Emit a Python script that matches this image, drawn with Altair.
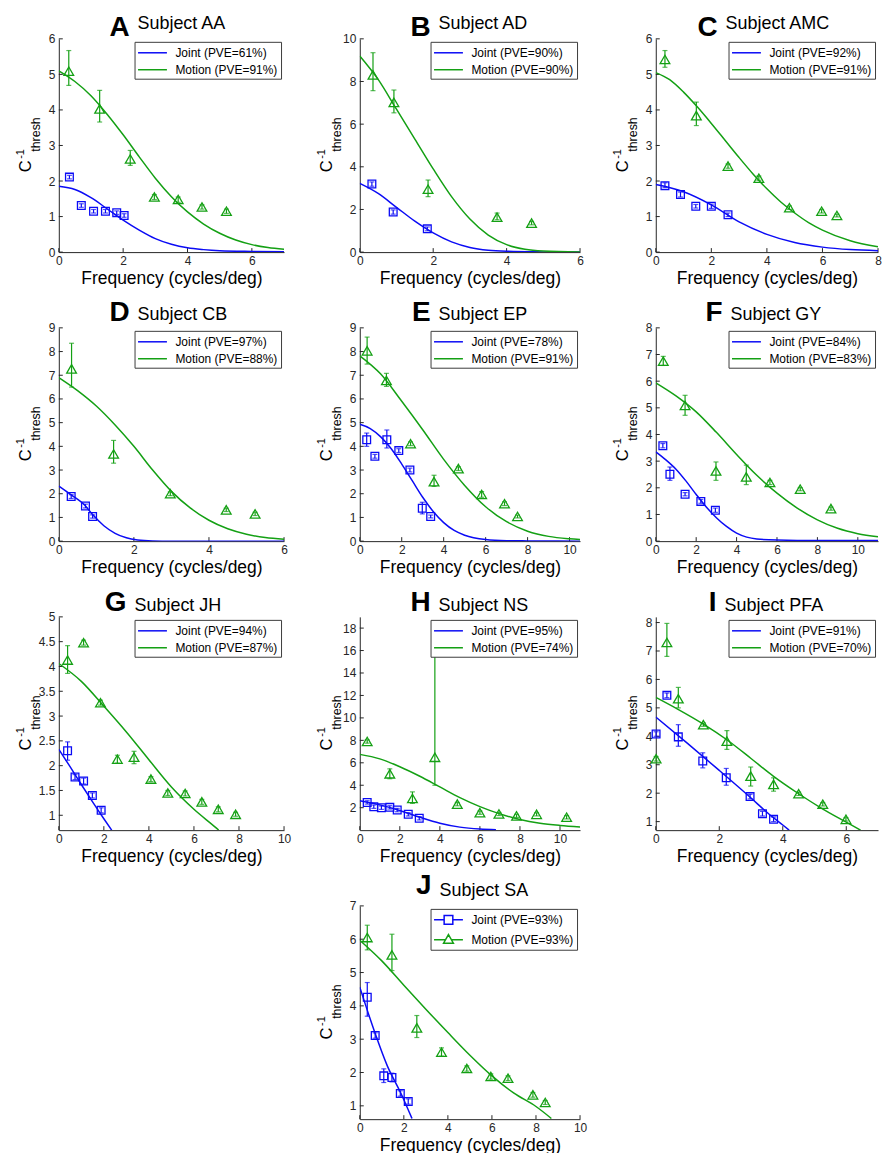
import altair as alt
import pandas as pd

BLUE = "#0b0bf5"
GREEN = "#14a014"
AXC = "#262626"
FONT = "Liberation Sans"

# ---------------- values ----------------
# points: (frequency, C^-1 thresh, error low, error high); fits: (frequency, value)
AA_joint = [(0.33, 2.11, 2.06, 2.16), (0.70, 1.31, 1.26, 1.36), (1.08, 1.15, 1.10, 1.20),
            (1.45, 1.15, 1.10, 1.20), (1.80, 1.11, 1.06, 1.16), (2.03, 1.03, 0.98, 1.08)]
AA_motion = [(0.31, 5.09, 4.69, 5.67), (1.27, 4.03, 3.66, 4.55), (2.22, 2.62, 2.44, 2.86),
             (2.97, 1.55, 1.48, 1.62), (3.71, 1.48, 1.40, 1.55), (4.45, 1.27, 1.21, 1.33),
             (5.21, 1.15, 1.09, 1.21)]
AA_joint_fit = [(0, 1.85), (0.5, 1.76), (1, 1.53), (1.5, 1.22), (2, 0.9), (2.5, 0.62), (3, 0.38),
                (3.5, 0.22), (4, 0.12), (4.5, 0.07), (5, 0.04), (6, 0.02), (7, 0.01)]
AA_motion_fit = [(0, 5.1), (0.5, 4.8), (1, 4.4), (1.5, 3.88), (2, 3.3), (2.5, 2.68), (3, 2.08),
                 (3.5, 1.56), (4, 1.13), (4.5, 0.79), (5, 0.53), (5.5, 0.34), (6, 0.21),
                 (6.5, 0.13), (7, 0.08)]

AD_joint = [(0.33, 3.19, 3.09, 3.29), (0.91, 1.88, 1.78, 1.98), (1.84, 1.09, 1.0, 1.18)]
AD_motion = [(0.36, 8.31, 7.57, 9.35), (0.93, 7.02, 6.53, 7.6), (1.86, 2.95, 2.6, 3.38),
             (3.74, 1.64, 1.52, 1.83), (4.68, 1.36, 1.28, 1.44)]
AD_joint_fit = [(0, 3.22), (0.5, 2.75), (1, 2.1), (1.5, 1.45), (2, 0.9), (2.5, 0.48), (3, 0.22),
                (3.5, 0.09), (4, 0.04), (5, 0.01), (6, 0.0)]
AD_motion_fit = [(0, 9.2), (0.5, 8.1), (1, 6.7), (1.5, 5.3), (2, 3.9), (2.5, 2.6), (3, 1.55),
                 (3.5, 0.8), (4, 0.35), (4.5, 0.13), (5, 0.05), (6, 0.01)]

AMC_joint = [(0.33, 1.87, 1.82, 1.95), (0.89, 1.62, 1.55, 1.69), (1.44, 1.29, 1.24, 1.34),
             (2.0, 1.29, 1.23, 1.35), (2.6, 1.05, 1.0, 1.1)]
AMC_motion = [(0.33, 5.42, 5.2, 5.67), (1.46, 3.84, 3.56, 4.22), (2.6, 2.42, 2.36, 2.48),
              (3.71, 2.08, 2.02, 2.14), (4.81, 1.25, 1.2, 1.3), (5.97, 1.15, 1.1, 1.2),
              (6.52, 1.03, 0.99, 1.07)]
AMC_joint_fit = [(0, 1.9), (1, 1.7), (2, 1.33), (3, 0.85), (4, 0.5), (5, 0.27), (6, 0.14),
                 (7, 0.07), (8, 0.04)]
AMC_motion_fit = [(0, 5.05), (0.5, 4.85), (1, 4.5), (1.5, 4.08), (2, 3.62), (2.5, 3.14),
                  (3, 2.66), (3.5, 2.2), (4, 1.78), (4.5, 1.41), (5, 1.1), (5.5, 0.83),
                  (6, 0.62), (7, 0.32), (8, 0.15)]

CB_joint = [(0.33, 1.88, 1.8, 1.96), (0.71, 1.48, 1.4, 1.56), (0.9, 1.04, 0.97, 1.11)]
CB_motion = [(0.34, 7.27, 6.5, 8.35), (1.46, 3.68, 3.29, 4.25), (2.97, 2.0, 1.92, 2.08),
             (4.46, 1.32, 1.25, 1.39), (5.23, 1.15, 1.08, 1.22)]
CB_joint_fit = [(0, 2.32), (0.33, 1.95), (0.7, 1.5), (0.9, 1.12), (1.2, 0.65), (1.5, 0.33),
                (1.8, 0.14), (2.1, 0.05), (2.5, 0.01), (3, 0.0), (6, 0.0)]
CB_motion_fit = [(0, 6.9), (0.5, 6.35), (1, 5.7), (1.5, 4.9), (2, 4.0), (2.5, 3.0), (3, 2.1),
                 (3.5, 1.4), (4, 0.88), (4.5, 0.52), (5, 0.29), (5.5, 0.15), (6, 0.08)]

EP_joint = [(0.33, 4.28, 4.0, 4.56), (0.72, 3.58, 3.5, 3.66), (1.29, 4.28, 3.93, 4.69),
            (1.86, 3.82, 3.74, 3.9), (2.39, 3.0, 2.92, 3.08), (2.98, 1.39, 1.15, 1.64),
            (3.38, 1.04, 0.98, 1.1)]
EP_motion = [(0.35, 8.03, 7.47, 8.61), (1.27, 6.78, 6.53, 7.08), (2.42, 4.11, 4.03, 4.19),
             (3.54, 2.51, 2.31, 2.78), (4.7, 3.06, 2.98, 3.14), (5.81, 1.97, 1.85, 2.09),
             (6.9, 1.58, 1.5, 1.66), (7.52, 1.04, 0.98, 1.1)]
EP_joint_fit = [(0, 4.93), (0.5, 4.75), (1, 4.4), (1.5, 3.9), (2, 3.25), (2.5, 2.55), (3, 1.85),
                (3.5, 1.25), (4, 0.78), (4.5, 0.45), (5, 0.25), (6, 0.07), (7, 0.02), (8, 0.01),
                (10.5, 0.0)]
EP_motion_fit = [(0, 7.82), (1, 7.05), (2, 5.9), (3, 4.7), (4, 3.45), (5, 2.35), (6, 1.45),
                 (7, 0.82), (8, 0.42), (9, 0.2), (10, 0.1), (10.5, 0.07)]

GY_joint = [(0.35, 3.58, 3.5, 3.66), (0.7, 2.51, 2.28, 2.78), (1.45, 1.76, 1.7, 1.82),
            (2.23, 1.49, 1.42, 1.56), (2.95, 1.16, 1.08, 1.24)]
GY_motion = [(0.37, 6.75, 6.59, 6.93), (1.45, 5.09, 4.72, 5.47), (2.98, 2.63, 2.28, 2.97),
             (4.48, 2.41, 2.12, 2.85), (5.65, 2.2, 2.12, 2.28), (7.15, 1.95, 1.89, 2.01),
             (8.67, 1.22, 1.16, 1.28)]
GY_joint_fit = [(0, 3.35), (0.5, 3.05), (1, 2.7), (1.5, 2.25), (2, 1.75), (2.5, 1.28), (3, 0.88),
                (3.5, 0.55), (4, 0.3), (4.5, 0.15), (5, 0.08), (6, 0.04), (8, 0.02), (11, 0.02)]
GY_motion_fit = [(0, 5.94), (1, 5.45), (2, 4.85), (3, 4.08), (4, 3.25), (5, 2.47), (6, 1.8),
                 (7, 1.24), (8, 0.8), (9, 0.48), (10, 0.28), (11, 0.16)]

JH_joint = [(0.39, 2.3, 2.11, 2.48), (0.72, 1.77, 1.72, 1.82), (1.1, 1.69, 1.63, 1.75),
            (1.49, 1.4, 1.35, 1.45), (1.88, 1.1, 1.05, 1.15)]
JH_motion = [(0.39, 4.13, 3.86, 4.42), (1.1, 4.48, 4.43, 4.53), (1.85, 3.27, 3.22, 3.32),
             (2.6, 2.13, 2.05, 2.21), (3.34, 2.17, 2.04, 2.29), (4.09, 1.73, 1.68, 1.78),
             (4.84, 1.45, 1.4, 1.5), (5.61, 1.44, 1.39, 1.49), (6.35, 1.27, 1.22, 1.32),
             (7.08, 1.12, 1.07, 1.17), (7.85, 1.02, 0.98, 1.06)]
JH_joint_fit = [(0, 2.33), (0.5, 1.98), (1, 1.62), (1.5, 1.27), (2, 0.93), (2.35, 0.7)]
JH_motion_fit = [(0, 4.06), (1, 3.7), (2, 3.2), (3, 2.68), (4, 2.12), (5, 1.57), (6, 1.12),
                 (7, 0.74), (7.1, 0.7)]

NS_joint = [(0.37, 2.47, 2.32, 2.62), (0.7, 2.09, 1.94, 2.24), (1.08, 2.0, 1.85, 2.15),
            (1.5, 2.03, 1.88, 2.18), (1.87, 1.79, 1.64, 1.94), (2.42, 1.41, 1.26, 1.56),
            (2.97, 1.06, 0.91, 1.21)]
NS_motion = [(0.37, 7.9, 7.75, 8.05), (1.5, 5.02, 4.58, 5.46), (2.63, 2.82, 2.38, 3.41),
             (3.75, 6.49, 4.0, 18.0), (4.87, 2.32, 2.17, 2.47), (6.0, 1.56, 1.41, 1.71),
             (6.95, 1.44, 1.3, 1.58), (7.83, 1.27, 1.13, 1.41), (8.83, 1.41, 1.27, 1.55),
             (10.33, 1.15, 1.0, 1.3)]
NS_joint_fit = [(0, 2.62), (1, 2.25), (2, 1.75), (3, 1.15), (4, 0.62), (5, 0.27), (6, 0.1),
                (6.8, 0.04)]
NS_motion_fit = [(0, 6.75), (1, 6.35), (2, 5.65), (3, 4.8), (4, 3.85), (5, 2.9), (6, 2.1),
                 (7, 1.45), (8, 0.95), (9, 0.62), (10, 0.42), (11, 0.28)]

PFA_joint = [(0.01, 4.08, 4.0, 4.16), (0.35, 5.44, 5.36, 5.52), (0.71, 3.98, 3.65, 4.41),
             (1.48, 3.13, 2.89, 3.42), (2.22, 2.54, 2.28, 2.87), (2.97, 1.88, 1.8, 1.96),
             (3.36, 1.28, 1.2, 1.36), (3.71, 1.08, 1.0, 1.16)]
PFA_motion = [(0.01, 3.21, 3.13, 3.29), (0.35, 7.3, 6.81, 7.97), (0.71, 5.32, 5.0, 5.72),
              (1.5, 4.41, 4.35, 4.47), (2.24, 3.83, 3.54, 4.2), (2.99, 2.6, 2.25, 2.92),
              (3.71, 2.31, 2.07, 2.54), (4.5, 1.98, 1.92, 2.04), (5.26, 1.61, 1.55, 1.67),
              (5.99, 1.08, 1.02, 1.14)]
PFA_joint_fit = [(0, 4.68), (1, 3.75), (2, 2.8), (3, 1.83), (3.5, 1.33), (4, 0.88), (4.2, 0.7)]
PFA_motion_fit = [(0, 5.37), (0.7, 4.95), (1.5, 4.43), (2.25, 3.87), (3, 3.22), (3.7, 2.6),
                  (4.5, 1.98), (5.25, 1.45), (6, 0.98), (6.45, 0.7)]

SA_joint = [(0.34, 4.26, 3.69, 4.7), (0.7, 3.11, 3.03, 3.19), (1.09, 1.9, 1.7, 2.11),
            (1.46, 1.85, 1.72, 1.98), (1.84, 1.37, 1.29, 1.45), (2.2, 1.13, 1.05, 1.21)]
SA_motion = [(0.34, 6.05, 5.68, 6.42), (1.46, 5.53, 5.06, 6.15), (2.59, 3.34, 3.05, 3.71),
             (3.71, 2.61, 2.49, 2.74), (4.86, 2.12, 2.04, 2.2), (5.95, 1.88, 1.8, 1.96),
             (6.73, 1.83, 1.76, 1.9), (7.86, 1.33, 1.26, 1.4), (8.42, 1.1, 1.04, 1.16)]
SA_joint_fit = [(0, 4.56), (0.35, 3.85), (0.7, 3.17), (1.25, 2.2), (1.85, 1.4), (2.37, 0.62)]
SA_motion_fit = [(0, 5.97), (1, 5.35), (2, 4.62), (3, 3.9), (4, 3.2), (5, 2.52), (6, 1.9),
                 (7, 1.38), (8, 0.98), (8.7, 0.62)]

letters = ["A", "B", "C", "D", "E", "F", "G", "H", "I", "J"]
subjects = ["AA", "AD", "AMC", "CB", "EP", "GY", "JH", "NS", "PFA", "SA"]
pve_joint = [61, 90, 92, 97, 78, 84, 94, 95, 91, 93]
pve_motion = [91, 90, 91, 88, 91, 83, 87, 74, 70, 93]
x_domains = [[0, 7], [0, 6], [0, 8], [0, 6], [0, 10.5], [0, 11], [0, 10], [0, 11], [0, 7], [0, 10]]
x_ticks = [[0, 2, 4, 6], [0, 2, 4, 6], [0, 2, 4, 6, 8], [0, 2, 4, 6], [0, 2, 4, 6, 8, 10],
           [0, 2, 4, 6, 8, 10], [0, 2, 4, 6, 8, 10], [0, 2, 4, 6, 8, 10], [0, 2, 4, 6],
           [0, 2, 4, 6, 8, 10]]
y_domains = [[0, 6], [0, 10], [0, 6], [0, 9], [0, 9], [0, 8], [0.7, 5], [0, 19], [0.7, 8.2], [0.6, 7]]
y_ticks = [[0, 1, 2, 3, 4, 5, 6], [0, 2, 4, 6, 8, 10], [0, 1, 2, 3, 4, 5, 6],
           [0, 1, 2, 3, 4, 5, 6, 7, 8, 9], [0, 1, 2, 3, 4, 5, 6, 7, 8, 9],
           [0, 1, 2, 3, 4, 5, 6, 7, 8], [1, 1.5, 2, 2.5, 3, 3.5, 4, 4.5, 5],
           [2, 4, 6, 8, 10, 12, 14, 16, 18], [1, 2, 3, 4, 5, 6, 7, 8], [1, 2, 3, 4, 5, 6, 7]]
series = [
    (AA_joint, AA_motion, AA_joint_fit, AA_motion_fit),
    (AD_joint, AD_motion, AD_joint_fit, AD_motion_fit),
    (AMC_joint, AMC_motion, AMC_joint_fit, AMC_motion_fit),
    (CB_joint, CB_motion, CB_joint_fit, CB_motion_fit),
    (EP_joint, EP_motion, EP_joint_fit, EP_motion_fit),
    (GY_joint, GY_motion, GY_joint_fit, GY_motion_fit),
    (JH_joint, JH_motion, JH_joint_fit, JH_motion_fit),
    (NS_joint, NS_motion, NS_joint_fit, NS_motion_fit),
    (PFA_joint, PFA_motion, PFA_joint_fit, PFA_motion_fit),
    (SA_joint, SA_motion, SA_joint_fit, SA_motion_fit),
]

# ---------------- layout (pixels) ----------------
COL_W = [226, 221, 223]
ROW_H = 214
SPACING = 76
SUB_X = [79, 79, 70, 79, 79, 75, 76, 79, 69, 80]
LETTER_BASE = [-3, -7, -6, -12]
SUB_BASE = [-10, -8, -6, -10]

LINE_PATH = "M-2,0H2"
SQ_PATH = "M-2,0H-0.6M0.6,0H2M-0.6,-0.6H0.6V0.6H-0.6Z"
TRI_PATH = "M-2,0H-0.4M0.4,0H2M0,-0.72L0.68,0.48H-0.68Z"


def text_layer(t, x, y, size, weight="normal", align="left", angle=0, baseline="alphabetic"):
    return alt.Chart(pd.DataFrame({"t": [t]})).mark_text(
        align=align, baseline=baseline, fontSize=size, fontWeight=weight, angle=angle,
        color="black", font=FONT
    ).encode(x=alt.value(x), y=alt.value(y), text="t:N")


def make_legend():
    return alt.Legend(title=None, orient="top-right", offset=3, padding=3, strokeColor="#3c3c3c",
                      fillColor="white", symbolType=LINE_PATH, symbolSize=210, symbolOffset=7,
                      symbolStrokeWidth=1.5, symbolFillColor="transparent", symbolOpacity=1,
                      labelFontSize=12, labelFont=FONT, labelColor="black", rowPadding=3,
                      labelOffset=15)


def make_panel(i, markers_in_legend):
    joint, motion, jfit, mfit = series[i]
    jl = "Joint (PVE=%d%%)" % pve_joint[i]
    ml = "Motion (PVE=%d%%)" % pve_motion[i]
    col = 1 if i == 9 else i % 3
    row = i // 3
    w, h = COL_W[col], ROW_H
    xs = alt.Scale(domain=x_domains[i], nice=False, zero=False)
    ys = alt.Scale(domain=y_domains[i], nice=False, zero=False)
    xax = alt.Axis(values=x_ticks[i], title="Frequency (cycles/deg)", ticks=False, grid=False,
                   labelFontSize=12, titleFontSize=17.5, titleFontWeight="normal", format=".2~f",
                   labelFlush=False, labelOverlap=False, labelPadding=3, titlePadding=3,
                   domainColor=AXC, labelColor=AXC, titleColor="black", labelFont=FONT,
                   titleFont=FONT)
    yax = alt.Axis(values=y_ticks[i], title=None, ticks=False, grid=False, labelFontSize=12,
                   format=".2~f", labelFlush=False, labelOverlap=False, labelPadding=4,
                   domainColor=AXC, labelColor=AXC, labelFont=FONT)

    def X(f):
        return alt.X(f, type="quantitative", scale=xs, axis=xax)

    def Y(f):
        return alt.Y(f, type="quantitative", scale=ys, axis=yax)

    jdf = pd.DataFrame(joint, columns=["x", "y", "lo", "hi"])
    mdf = pd.DataFrame(motion, columns=["x", "y", "lo", "hi"])
    fdf = pd.DataFrame([(x, y, jl) for x, y in jfit] + [(x, y, ml) for x, y in mfit],
                       columns=["x", "y", "s"])
    xt = pd.DataFrame({"v": x_ticks[i]})
    yt = pd.DataFrame({"v": y_ticks[i]})
    legend = make_legend()
    cscale = alt.Scale(domain=[jl, ml], range=[BLUE, GREEN])

    layers = []
    layers.append(alt.Chart(xt).mark_rule(color=AXC, strokeWidth=1).encode(
        x=X("v"), y=alt.value(h), y2=alt.value(h - 4)))
    layers.append(alt.Chart(yt).mark_rule(color=AXC, strokeWidth=1).encode(
        y=Y("v"), x=alt.value(0), x2=alt.value(4)))
    for df, colr, shape, size in ((jdf, BLUE, "square", 60), (mdf, GREEN, "triangle-up", 95)):
        layers.append(alt.Chart(df).mark_errorbar(ticks=True, size=5, thickness=1.2, color=colr).encode(
            x=X("x"), y=Y("lo"), y2="hi:Q"))
        layers.append(alt.Chart(df).mark_point(shape=shape, filled=False, size=size, strokeWidth=1.3,
                                               color=colr, opacity=1).encode(x=X("x"), y=Y("y")))
    layers.append(alt.Chart(fdf).mark_line(strokeWidth=1.5, clip=True, interpolate="monotone").encode(
        x=X("x"), y=Y("y"), color=alt.Color("s:N", scale=cscale, legend=legend)))
    if markers_in_legend and i == 9:
        # invisible points on the fit curves, only to give the legend its line+marker symbols
        layers.append(alt.Chart(fdf).mark_point(filled=False, opacity=0).encode(
            x=X("x"), y=Y("y"), color=alt.Color("s:N", scale=cscale, legend=legend),
            shape=alt.Shape("s:N", scale=alt.Scale(domain=[jl, ml], range=[SQ_PATH, TRI_PATH]),
                            legend=legend)))
    # titles
    sx = SUB_X[i]
    layers.append(text_layer(letters[i], sx - 8, LETTER_BASE[row], 28, weight="bold", align="right"))
    layers.append(text_layer("Subject " + subjects[i], sx, SUB_BASE[row], 18, align="left"))
    # y label C^-1_thresh
    layers.append(text_layer("C", -33, h / 2 + 21, 16.5, align="center", angle=270, baseline="middle"))
    layers.append(text_layer("-1", -38, h / 2 + 8.5, 11, align="center", angle=270, baseline="middle"))
    layers.append(text_layer("thresh", -23, h / 2 - 11, 12.5, align="center", angle=270,
                             baseline="middle"))
    return alt.layer(*layers).properties(width=w, height=h)


def placeholder():
    return alt.Chart(pd.DataFrame({"a": [0]})).mark_point(opacity=0).encode(
        x=alt.X("a:Q", axis=None), y=alt.Y("a:Q", axis=None)).properties(width=COL_W[0], height=ROW_H)


def build(markers_in_legend):
    panels = [make_panel(i, markers_in_legend) for i in range(9)] + \
             [placeholder(), make_panel(9, markers_in_legend)]
    ch = alt.concat(*panels, columns=3, spacing=SPACING, bounds="flush").resolve_scale(
        x="independent", y="independent", color="independent", shape="independent"
    ).resolve_legend(color="independent", shape="independent")
    return ch.properties(padding={"left": 15, "top": 12, "right": 2, "bottom": 2}).configure(
        font=FONT).configure_view(strokeWidth=0)


try:
    chart = build(True)
    chart.save("out.html", embed_options={"renderer": "svg", "actions": False})
except Exception:
    chart = build(False)
    chart.save("out.html", embed_options={"renderer": "svg", "actions": False})
